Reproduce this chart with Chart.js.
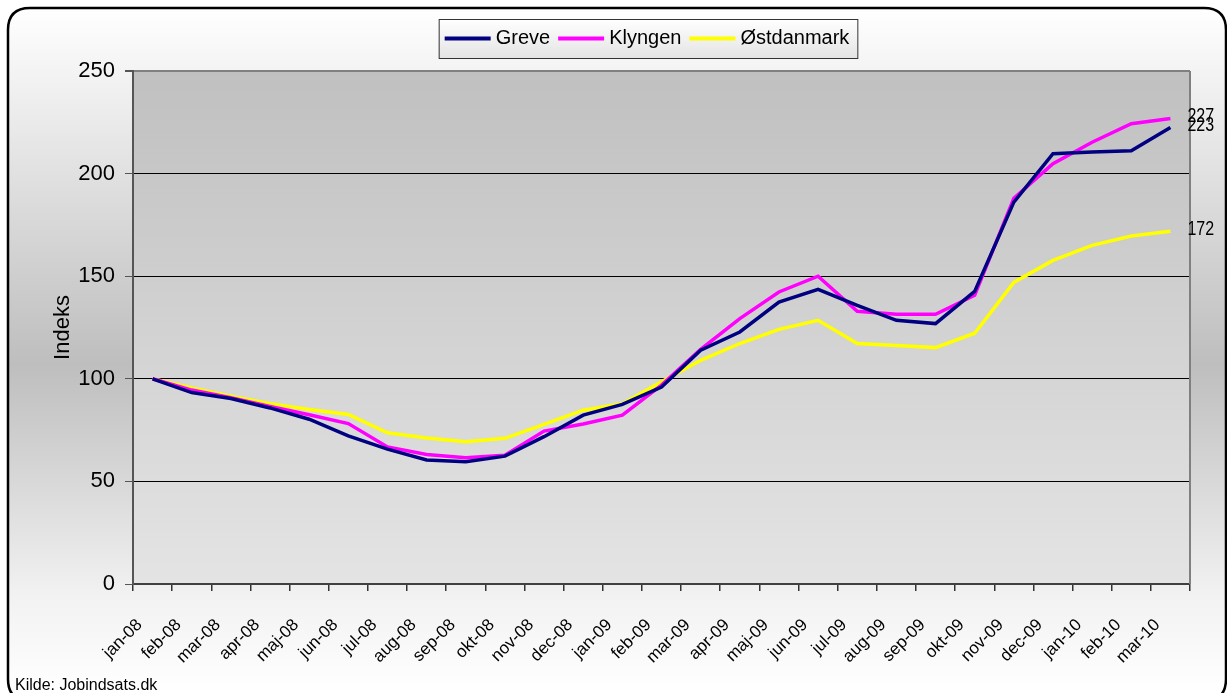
<!DOCTYPE html>
<html>
<head>
<meta charset="utf-8">
<script src="https://cdn.jsdelivr.net/npm/chart.js@4.4.1/dist/chart.umd.min.js"></script>
<style>
  html, body { margin: 0; padding: 0; background: #fff; }
  #wrap { width: 1227px; height: 693px; position: relative; }
</style>
</head>
<body>
<div id="wrap"><canvas id="grafik" width="1227" height="693"></canvas></div>
<script>
// maaneder jan-08 .. mar-10
const maaneder = ['jan-08', 'feb-08', 'mar-08', 'apr-08', 'maj-08', 'jun-08', 'jul-08', 'aug-08', 'sep-08',
    'okt-08', 'nov-08', 'dec-08', 'jan-09', 'feb-09', 'mar-09', 'apr-09', 'maj-09', 'jun-09', 'jul-09',
    'aug-09', 'sep-09', 'okt-09', 'nov-09', 'dec-09', 'jan-10', 'feb-10', 'mar-10'];

const greve = [100, 93.3, 90.4, 85.8, 80.3, 72.2, 65.7, 60.4, 59.6, 62.3, 71.8, 82.3, 87.5, 96.0,
    113.9, 122.8, 137.4, 143.6, 135.8, 128.5, 126.9, 142.6, 186.1, 209.7, 210.5, 211.1, 222.5];
const klyngen = [100, 94.5, 90.8, 86.5, 82.5, 78.2, 66.8, 63.1, 61.5, 62.8, 74.5, 78.0, 82.3, 96.9,
    114.4, 129.3, 142.3, 150.0, 132.9, 131.4, 131.4, 140.7, 188.0, 204.8, 215.3, 224.3, 226.8];
const oestdanmark = [100, 95.5, 91.5, 87.8, 85.0, 82.6, 73.7, 71.2, 69.3, 71.0, 77.8, 84.7, 87.8, 98.5,
    109.0, 117.2, 124.1, 128.5, 117.2, 116.2, 115.2, 122.2, 147.0, 157.7, 165.0, 169.6, 171.9];

const yTicks = [0, 50, 100, 150, 200, 250];
const slutEtiketter = ['223', '227', '172'];
const kilde = 'Kilde: Jobindsats.dk';

const FONT = "'Liberation Sans', Arial, sans-serif";

// baggrund, ramme, plotomraade
const baggrundPlugin = {
    id: 'baggrund',
    beforeDraw(chart) {
        const c = chart.ctx;
        const W = chart.width, H = chart.height;
        c.save();
        // afrundet ramme
        const x0 = 8, y0 = 8, x1 = W - 1, y1 = H + 8, r = 22;
        c.beginPath();
        c.moveTo(x0 + r, y0);
        c.lineTo(x1 - r, y0);
        c.quadraticCurveTo(x1, y0, x1, y0 + r);
        c.lineTo(x1, y1 - r);
        c.quadraticCurveTo(x1, y1, x1 - r, y1);
        c.lineTo(x0 + r, y1);
        c.quadraticCurveTo(x0, y1, x0, y1 - r);
        c.lineTo(x0, y0 + r);
        c.quadraticCurveTo(x0, y0, x0 + r, y0);
        c.closePath();
        const g = c.createLinearGradient(0, y0, 0, H);
        g.addColorStop(0, '#ffffff');
        g.addColorStop(0.52, '#bebebe');
        g.addColorStop(0.86, '#f2f2f2');
        g.addColorStop(1, '#ffffff');
        c.fillStyle = g;
        c.fill();
        c.lineWidth = 2.5;
        c.strokeStyle = '#000';
        c.stroke();

        const a = chart.chartArea;
        const g2 = c.createLinearGradient(0, a.top, 0, a.bottom);
        g2.addColorStop(0, '#c0c0c0');
        g2.addColorStop(1, '#e4e4e4');
        c.fillStyle = g2;
        c.fillRect(a.left, a.top, a.right - a.left, a.bottom - a.top);
        c.restore();
    },
    afterDraw(chart) {
        const c = chart.ctx;
        const a = chart.chartArea;
        c.save();
        // hoejre kant af plotomraadet
        c.strokeStyle = '#808080';
        c.lineWidth = 2;
        c.beginPath();
        c.moveTo(a.right, a.top);
        c.lineTo(a.right, a.bottom);
        c.stroke();

        // slutetiketter ved sidste punkt (smal skrift)
        c.font = '20px ' + FONT;
        c.fillStyle = '#000';
        c.textAlign = 'left';
        c.textBaseline = 'middle';
        chart.data.datasets.forEach((ds, i) => {
            const meta = chart.getDatasetMeta(i);
            const p = meta.data[meta.data.length - 1];
            c.save();
            c.translate(p.x + 17, p.y - 2);
            c.scale(0.8, 1);
            c.fillText(slutEtiketter[i], 0, 0);
            c.restore();
        });

        // kilde
        c.font = '16px ' + FONT;
        c.textBaseline = 'alphabetic';
        c.fillText(kilde, 15, 690);

        // forklaring
        c.font = '20px ' + FONT;
        const linjeB = 46, mellem = 5, gap = 8;
        const items = chart.data.datasets.map(ds => ({ t: ds.label, col: ds.borderColor }));
        let total = 0;
        items.forEach((it, i) => {
            it.w = c.measureText(it.t).width;
            total += linjeB + mellem + it.w + (i < items.length - 1 ? gap : 0);
        });
        const bx = 647 - total / 2 - 6, by = 19, bw = total + 14, bh = 39;
        const lg = c.createLinearGradient(0, by, 0, by + bh);
        lg.addColorStop(0, '#ffffff');
        lg.addColorStop(1, '#e4e4e4');
        c.fillStyle = lg;
        c.fillRect(bx, by, bw, bh);
        c.strokeStyle = '#333';
        c.lineWidth = 1;
        c.strokeRect(bx + 0.5, by + 0.5, bw, bh);
        let x = bx + 6;
        const cy = by + bh / 2;
        items.forEach(it => {
            c.strokeStyle = it.col;
            c.lineWidth = 4;
            c.beginPath();
            c.moveTo(x, cy);
            c.lineTo(x + linjeB, cy);
            c.stroke();
            x += linjeB + mellem;
            c.fillStyle = '#000';
            c.textBaseline = 'middle';
            c.fillText(it.t, x, cy);
            x += it.w + gap;
        });
        c.restore();
    }
};

new Chart(document.getElementById('grafik').getContext('2d'), {
    type: 'line',
    data: {
        labels: maaneder,
        datasets: [
            { label: 'Greve', data: greve, borderColor: '#000080', borderWidth: 3.5 },
            { label: 'Klyngen', data: klyngen, borderColor: '#ff00ff', borderWidth: 3.5 },
            { label: 'Østdanmark', data: oestdanmark, borderColor: '#ffff00', borderWidth: 3.5 }
        ]
    },
    options: {
        responsive: false,
        animation: false,
        events: [],
        layout: { padding: { top: 71, right: 37, left: 0, bottom: 0 } },
        elements: { point: { radius: 0 }, line: { tension: 0 } },
        plugins: { legend: { display: false }, tooltip: { enabled: false } },
        scales: {
            x: {
                offset: true,
                afterFit(scale) { scale.height = 109; },
                grid: { offset: true, drawOnChartArea: false, drawTicks: true, tickLength: 7, color: '#333', lineWidth: 1.5 },
                border: { color: '#404040', width: 2 },
                ticks: {
                    autoSkip: false, minRotation: 45, maxRotation: 45, labelOffset: -13,
                    color: '#000', font: { family: FONT, size: 17 }, padding: 24
                }
            },
            y: {
                min: 0, max: 250,
                afterFit(scale) { scale.width = 133; },
                afterBuildTicks(scale) { scale.ticks = yTicks.map(v => ({ value: v })); },
                grid: {
                    color: ctx => (ctx.tick && ctx.tick.value === 250 ? '#808080' : '#000'),
                    lineWidth: ctx => (ctx.tick && ctx.tick.value === 250 ? 2 : 1),
                    tickLength: 8,
                    tickColor: '#555'
                },
                border: { color: '#555', width: 2 },
                ticks: { color: '#000', font: { family: FONT, size: 22 }, padding: 10 },
                title: {
                    display: true, text: 'Indeks', color: '#000',
                    font: { family: FONT, size: 22 }, padding: { top: 50, bottom: 0 }
                }
            }
        }
    },
    plugins: [baggrundPlugin]
});
</script>
</body>
</html>
